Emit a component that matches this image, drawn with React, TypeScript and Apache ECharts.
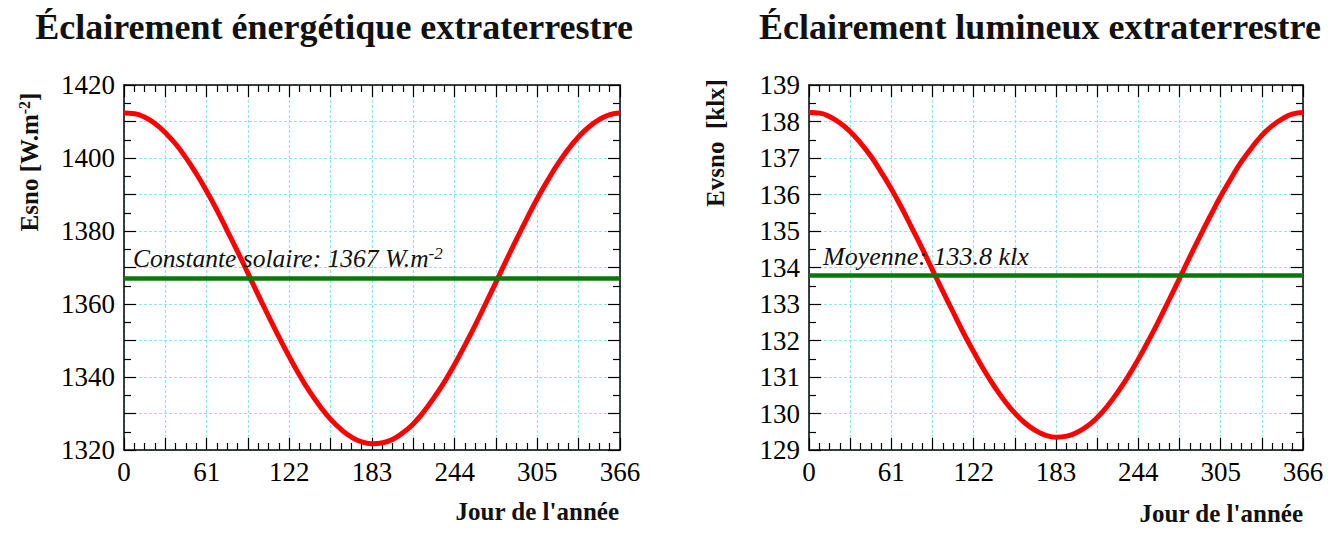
import React, { useEffect, useRef } from "react";
import * as echarts from "echarts";

const days = [
  0, 8, 15, 23, 30, 38, 46, 53, 61, 69, 76, 84, 91, 99, 107, 114, 122, 130, 137, 145, 152, 160, 168, 175, 183,
  191, 198, 206, 213, 221, 229, 236, 244, 252, 259, 267, 274, 282, 290, 297, 305, 313, 320, 328, 335, 343, 351, 358, 366,
];

// éclairement énergétique extraterrestre [W.m-2]
const esno = [
  1412.3, 1412.1, 1411.2, 1409.4, 1407.1, 1403.9, 1399.9, 1395.9, 1390.9, 1385.4, 1380.2, 1374.2, 1368.8, 1362.5,
  1356.4, 1351.2, 1345.5, 1340.2, 1336.0, 1331.8, 1328.6, 1325.7, 1323.5, 1322.3, 1321.7, 1322.0, 1322.9, 1324.8,
  1327.0, 1330.4, 1334.5, 1338.4, 1343.5, 1349.0, 1354.1, 1360.2, 1365.6, 1371.9, 1378.0, 1383.2, 1388.9, 1394.1,
  1398.3, 1402.5, 1405.6, 1408.5, 1410.6, 1411.8, 1412.3,
];

// éclairement lumineux extraterrestre [klx]
const evsno = [
  138.25, 138.23, 138.14, 137.96, 137.74, 137.42, 137.04, 136.64, 136.15, 135.61, 135.1, 134.51, 133.97, 133.36,
  132.76, 132.24, 131.69, 131.17, 130.76, 130.34, 130.03, 129.74, 129.53, 129.41, 129.35, 129.38, 129.47, 129.65,
  129.87, 130.2, 130.6, 130.99, 131.49, 132.03, 132.53, 133.13, 133.66, 134.28, 134.88, 135.39, 135.95, 136.46,
  136.88, 137.28, 137.6, 137.88, 138.08, 138.2, 138.25,
];

const solarConstant = 1367;
const evsnoMean = 133.8;

const SERIF = '"Liberation Serif", "Times New Roman", serif';
const GRID_COLOR = "#8fe6ef";

const xAxes = (gridIndex: number) => {
  const base = {
    type: "value",
    gridIndex,
    min: 0,
    max: 366,
    interval: 30.5,
    axisLine: { show: true, onZero: false, lineStyle: { color: "#000", width: 1.5 } },
    axisTick: { show: true, inside: true, length: 12, lineStyle: { color: "#000", width: 1.2 } },
    minorTick: { show: true, splitNumber: 4, length: 7, lineStyle: { color: "#000", width: 1.2 } },
  };
  return [
    {
      ...base,
      position: "bottom",
      axisLabel: {
        formatter: (v: number) => (v % 61 === 0 ? String(v) : ""),
        fontFamily: SERIF,
        fontSize: 27,
        color: "#000",
        margin: 8,
      },
      splitLine: { show: true, lineStyle: { color: GRID_COLOR, type: [3, 2], width: 1.2 } },
    },
    { ...base, position: "top", axisLabel: { show: false }, splitLine: { show: false } },
  ];
};

const yAxes = (gridIndex: number, min: number, max: number, interval: number, labelStep: number) => {
  const base = {
    type: "value",
    gridIndex,
    min,
    max,
    interval,
    axisLine: { show: true, onZero: false, lineStyle: { color: "#000", width: 1.5 } },
    axisTick: { show: true, inside: true, length: 12, lineStyle: { color: "#000", width: 1.2 } },
    minorTick: { show: true, splitNumber: 2, length: 7, lineStyle: { color: "#000", width: 1.2 } },
  };
  return [
    {
      ...base,
      position: "left",
      axisLabel: {
        formatter: (v: number) => (Math.round(v - min) % labelStep === 0 ? String(v) : ""),
        fontFamily: SERIF,
        fontSize: 27,
        color: "#000",
        margin: 9,
      },
      splitLine: { show: true, lineStyle: { color: GRID_COLOR, type: [3, 2], width: 1.2 } },
    },
    { ...base, position: "right", axisLabel: { show: false }, splitLine: { show: false } },
  ];
};

const App: React.FC = () => {
  const chartRef = useRef<HTMLDivElement | null>(null);

  useEffect(() => {
    const chartDom = chartRef.current;
    if (!chartDom) return;
    const chart = echarts.init(chartDom, undefined, { renderer: "svg" });

    const boldText = { fontFamily: SERIF, fontWeight: "bold", fontSize: 25, fill: "#111" };

    const option = {
      animation: false,
      grid: [
        { left: 116, top: 77, width: 496, height: 365 },
        { left: 801, top: 77, width: 494, height: 365 },
      ],
      xAxis: [...xAxes(0), ...xAxes(1)],
      yAxis: [...yAxes(0, 1320, 1420, 10, 20), ...yAxes(1, 129, 139, 1, 1)],
      series: [
        {
          type: "line",
          xAxisIndex: 0,
          yAxisIndex: 0,
          smooth: true,
          showSymbol: false,
          lineStyle: { color: "#ff0000", width: 5 },
          data: days.map((d, i) => [d, esno[i]]),
          markLine: {
            silent: true,
            symbol: "none",
            lineStyle: { color: "#0b780b", width: 4.5, type: "solid" },
            label: {
              position: "insideStartTop",
              distance: [9, 7],
              formatter: "{a|Constante solaire: " + solarConstant + " W.m}{s|-2}",
              rich: {
                a: { fontFamily: SERIF, fontStyle: "italic", fontSize: 25.5, color: "#111" },
                s: { fontFamily: SERIF, fontStyle: "italic", fontSize: 17, color: "#111", verticalAlign: "top" },
              },
            },
            data: [{ yAxis: solarConstant }],
          },
        },
        {
          type: "line",
          xAxisIndex: 2,
          yAxisIndex: 2,
          smooth: true,
          showSymbol: false,
          lineStyle: { color: "#ff0000", width: 5 },
          data: days.map((d, i) => [d, evsno[i]]),
          markLine: {
            silent: true,
            symbol: "none",
            lineStyle: { color: "#0b780b", width: 4.5, type: "solid" },
            label: {
              position: "insideStartTop",
              distance: [14, 5],
              formatter: "Moyenne: " + evsnoMean + " klx",
              fontFamily: SERIF,
              fontStyle: "italic",
              fontSize: 26,
              color: "#111",
            },
            data: [{ yAxis: evsnoMean }],
          },
        },
      ],
      graphic: [
        {
          type: "text",
          x: 326,
          y: 19,
          style: { ...boldText, text: "Éclairement énergétique extraterrestre", fontSize: 36, align: "center", verticalAlign: "middle" },
        },
        {
          type: "text",
          x: 1032,
          y: 19,
          style: { ...boldText, text: "Éclairement lumineux extraterrestre", fontSize: 36, align: "center", verticalAlign: "middle" },
        },
        {
          type: "text",
          x: 21,
          y: 154,
          rotation: Math.PI / 2,
          style: {
            text: "{a|Esno [W.m}{s|-2}{a|]}",
            align: "center",
            verticalAlign: "middle",
            rich: {
              a: { fontFamily: SERIF, fontWeight: "bold", fontSize: 25, fill: "#111" },
              s: { fontFamily: SERIF, fontWeight: "bold", fontSize: 16, fill: "#111", verticalAlign: "top" },
            },
          },
        },
        {
          type: "text",
          x: 707,
          y: 135,
          rotation: Math.PI / 2,
          style: { ...boldText, text: "Evsno  [klx]", align: "center", verticalAlign: "middle" },
        },
        {
          type: "text",
          x: 611,
          y: 503,
          style: { ...boldText, text: "Jour de l'année", align: "right", verticalAlign: "middle" },
        },
        {
          type: "text",
          x: 1295,
          y: 505,
          style: { ...boldText, text: "Jour de l'année", align: "right", verticalAlign: "middle" },
        },
      ],
    };

    chart.setOption(option);

    return () => {
      chart.dispose();
    };
  }, []);

  return <div ref={chartRef} style={{ width: "1320px", height: "520px" }}></div>;
};

export default App;
